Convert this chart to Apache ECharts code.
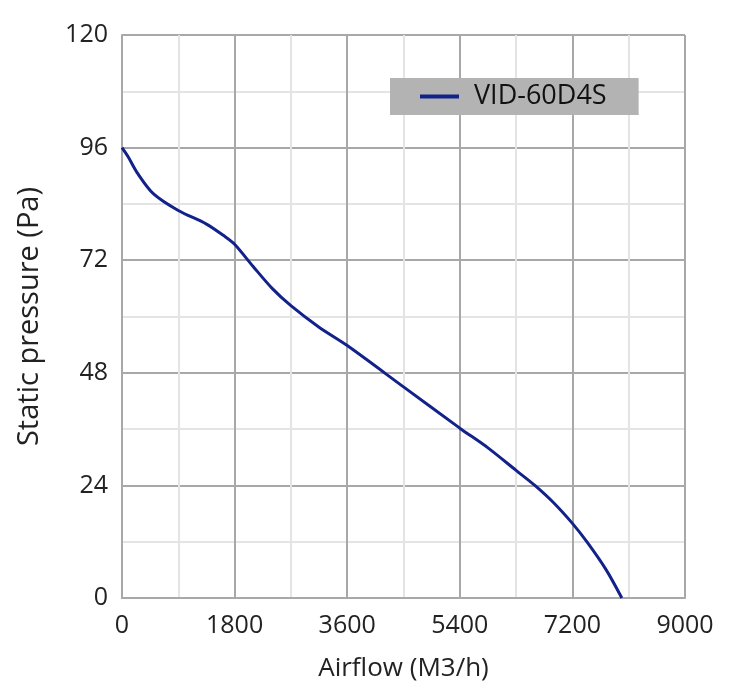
<!DOCTYPE html>
<html>
<head>
<meta charset="utf-8">
<script src="https://cdn.jsdelivr.net/npm/echarts@6/dist/echarts.min.js"></script>
<style>html,body{margin:0;padding:0;background:#fff;}#c{width:737px;height:700px;}</style>
</head>
<body>
<div id="c"></div>
<script>
const seriesName = 'VID-60D4S';
const airflow = [0, 100, 250, 500, 900, 1350, 1650, 1800, 2100, 2400, 2700, 3150, 3600, 4500, 5400, 5850, 6300, 6600, 6900, 7200, 7430, 7740, 7990];
const pressure = [96, 94, 90.5, 86.2, 82.6, 79.7, 77, 75.4, 70.6, 66, 62.3, 57.7, 53.8, 45, 36.2, 32, 27.2, 24, 20.3, 15.9, 12, 6, 0];
const xTicks = [0, 1800, 3600, 5400, 7200, 9000];
const yTicks = [0, 24, 48, 72, 96, 120];

const chart = echarts.init(document.getElementById('c'));
const font = 'Open Sans, Noto Sans, sans-serif';
chart.setOption({
  animation: false,
  backgroundColor: '#fff',
  grid: { left: 122, right: 52, top: 35, bottom: 102 },
  legend: {
    left: 390, top: 78,
    backgroundColor: '#b3b3b3',
    padding: [5, 32, 5, 30],
    itemWidth: 49, itemHeight: 14, itemGap: 14,
    icon: 'path://M0,5 L39,5 L39,9 L0,9 Z M49,5 L49,9',
    textStyle: { fontSize: 27, color: '#111', fontFamily: font },
    data: [seriesName]
  },
  xAxis: {
    type: 'value', min: xTicks[0], max: xTicks[xTicks.length - 1], interval: 1800,
    name: 'Airflow (M3/h)', nameLocation: 'middle', nameGap: 58,
    nameTextStyle: { fontSize: 26, color: '#222', fontFamily: font },
    axisLine: { show: true, lineStyle: { color: '#a8a8a8', width: 2 } },
    axisTick: { show: false },
    axisLabel: { fontSize: 25, color: '#222', fontFamily: font, margin: 15, formatter: v => String(v) },
    splitLine: { show: true, lineStyle: { color: '#a8a8a8', width: 2 } },
    minorTick: { show: false, splitNumber: 2 },
    minorSplitLine: { show: true, lineStyle: { color: '#e4e4e4', width: 2 } }
  },
  yAxis: {
    type: 'value', min: yTicks[0], max: yTicks[yTicks.length - 1], interval: 24,
    name: 'Static pressure (Pa)', nameLocation: 'middle', nameGap: 78, nameRotate: 90,
    nameTextStyle: { fontSize: 29, color: '#222', fontFamily: font },
    axisLine: { show: true, lineStyle: { color: '#a8a8a8', width: 2 } },
    axisTick: { show: false },
    axisLabel: { fontSize: 25, color: '#222', fontFamily: font, margin: 14, formatter: v => String(v) },
    splitLine: { show: true, lineStyle: { color: '#a8a8a8', width: 2 } },
    minorTick: { show: false, splitNumber: 2 },
    minorSplitLine: { show: true, lineStyle: { color: '#e4e4e4', width: 2 } }
  },
  series: [{
    name: seriesName, type: 'line', smooth: 0.3, showSymbol: false,
    data: airflow.map((x, i) => [x, pressure[i]]),
    lineStyle: { color: '#13228a', width: 3 },
    itemStyle: { color: '#13228a' }
  }]
});
</script>
</body>
</html>
